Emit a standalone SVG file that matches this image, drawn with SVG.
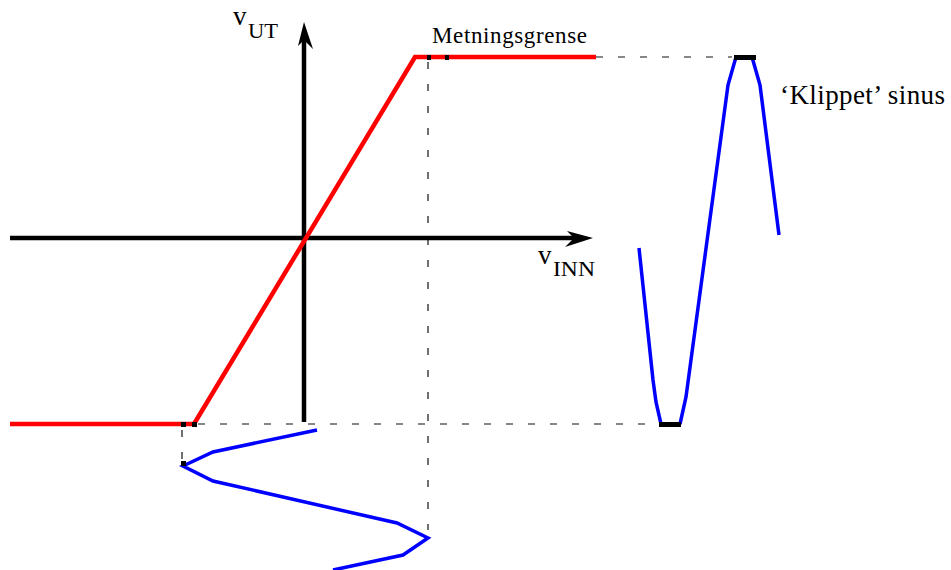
<svg xmlns="http://www.w3.org/2000/svg" width="951" height="570" viewBox="0 0 951 570">
<style>
.axis{stroke:#000;stroke-width:4.5;fill:none}
.red{stroke:#ff0000;stroke-width:4.5;fill:none;stroke-linejoin:miter}
.blue{stroke:#0000ff;stroke-width:3.5;fill:none;stroke-linejoin:miter}
.dash{stroke:#111;stroke-width:1.2;fill:none;stroke-dasharray:7 15}
.sq{fill:#000}
text{font-family:"Liberation Serif","DejaVu Serif",serif;fill:#000}
</style>
<rect width="951" height="570" fill="#fff"/>
<g id="connectors">
  <path class="dash" d="M596 57 H732"/>
  <path class="dash" d="M428 62 V530"/>
  <path class="dash" d="M198 424 H660"/>
  <path class="dash" d="M182 430 V460"/>
</g>
<g id="axes">
  <line class="axis" x1="304" y1="422" x2="304" y2="38"/>
  <polygon points="304,22 298,46 304,40 313,49" fill="#000"/>
  <line class="axis" x1="10" y1="238" x2="578" y2="238"/>
  <polygon points="593,238 567,231 574,238 565,247" fill="#000"/>
</g>
<g id="transfer">
  <polyline class="red" points="10,424 194,424 415,57 596,57"/>
  <rect class="sq" x="181" y="422" width="5" height="5"/>
  <rect class="sq" x="192" y="422" width="5" height="5"/>
  <rect class="sq" x="427" y="55" width="4" height="5"/>
  <rect class="sq" x="445" y="55" width="4" height="5"/>
</g>
<g id="input-sine">
  <polyline class="blue" points="317,430 213,452 183,466 213,481 397,523 428,538 403,555 333,570"/>
  <rect class="sq" x="181" y="461" width="5" height="5"/>
</g>
<g id="clipped-sine">
  <polyline class="blue" points="639,248 653,380 656,402 661,424"/>
  <polyline class="blue" points="680,424 686,397 728,85 736,57"/>
  <polyline class="blue" points="752,57 760,85 779,235"/>
  <rect class="sq" x="659" y="422" width="22" height="5"/>
  <rect class="sq" x="734" y="55" width="22" height="5"/>
</g>
<g id="labels">
  <text x="233" y="25" font-size="27">v</text>
  <text x="248" y="38" font-size="22" textLength="30" lengthAdjust="spacingAndGlyphs">UT</text>
  <text x="538" y="264" font-size="27">v</text>
  <text x="553" y="276" font-size="22" textLength="42" lengthAdjust="spacingAndGlyphs">INN</text>
  <text x="432" y="43" font-size="23" textLength="155" lengthAdjust="spacing">Metningsgrense</text>
  <text x="780" y="104" font-size="27" textLength="165" lengthAdjust="spacing">‘Klippet’ sinus</text>
</g>
</svg>
